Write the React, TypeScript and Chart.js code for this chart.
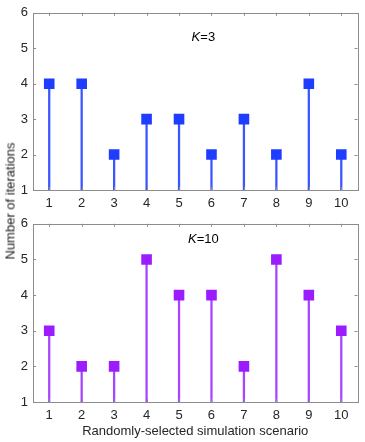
import React, { useEffect, useRef } from "react";
import { Chart, registerables } from "chart.js";
Chart.register(...registerables);

const scenarios = [1, 2, 3, 4, 5, 6, 7, 8, 9, 10];
const itersK3 = [4, 4, 2, 3, 3, 2, 3, 2, 4, 2];
const itersK10 = [3, 2, 2, 5, 4, 4, 2, 5, 4, 3];
const yTicks = [1, 2, 3, 4, 5, 6];
const xTitle = "Randomly-selected simulation scenario";
const yTitle = "Number of iterations";

const FONT = "'Liberation Sans', Arial, sans-serif";
const FS = 13;

const framePlugin = {
  id: "frame",
  afterDraw(chart: any, _a: any, opts: any) {
    const { ctx, chartArea: a, scales } = chart;
    ctx.save();
    ctx.strokeStyle = "#8c8c8c";
    ctx.lineWidth = 1;
    ctx.strokeRect(Math.round(a.left) + 0.5, Math.round(a.top) + 0.5, Math.round(a.right - a.left), Math.round(a.bottom - a.top));
    const tl = 3;
    ctx.beginPath();
    for (const v of scenarios) {
      const x = Math.round(scales.x.getPixelForValue(v)) + 0.5;
      ctx.moveTo(x, a.bottom);
      ctx.lineTo(x, a.bottom - tl);
      ctx.moveTo(x, a.top);
      ctx.lineTo(x, a.top + tl);
    }
    for (const v of yTicks) {
      const y = Math.round(scales.y.getPixelForValue(v)) + 0.5;
      ctx.moveTo(a.left, y);
      ctx.lineTo(a.left + tl, y);
      ctx.moveTo(a.right, y);
      ctx.lineTo(a.right - tl, y);
    }
    ctx.stroke();
    ctx.fillStyle = "#000";
    ctx.textBaseline = "middle";
    const cx = scales.x.getPixelForValue(opts.lx);
    const cy = scales.y.getPixelForValue(opts.ly);
    ctx.font = `italic ${FS}px ${FONT}`;
    const wk = ctx.measureText("K").width;
    ctx.font = `${FS}px ${FONT}`;
    const wr = ctx.measureText(opts.rest).width;
    const start = cx - (wk + wr) / 2;
    ctx.font = `italic ${FS}px ${FONT}`;
    ctx.textAlign = "left";
    ctx.fillText("K", start, cy);
    ctx.font = `${FS}px ${FONT}`;
    ctx.fillText(opts.rest, start + wk, cy);
    ctx.restore();
  },
};

function StemChart({ values, color, stemColor, label, showXTitle, height }: any) {
  const ref = useRef<HTMLCanvasElement>(null);
  useEffect(() => {
    const chart = new Chart(ref.current!, {
      type: "bar",
      data: {
        datasets: [
          {
            type: "scatter",
            data: scenarios.map((s, i) => ({ x: s, y: values[i] })),
            pointStyle: "rect",
            pointRadius: 7.5,
            backgroundColor: color,
            borderColor: color,
            borderWidth: 0,
            order: 0,
          } as any,
          {
            type: "bar",
            data: scenarios.map((s, i) => ({ x: s, y: [1, values[i]] })),
            backgroundColor: stemColor,
            barThickness: 1.6,
            order: 1,
          } as any,
        ],
      },
      options: {
        animation: false,
        responsive: false,
        maintainAspectRatio: false,
        layout: { padding: { top: 9, right: 5, left: 0, bottom: 0 } },
        plugins: {
          legend: { display: false },
          tooltip: { enabled: false },
          frame: { lx: 5.75, ly: label.ly, rest: label.rest },
        } as any,
        scales: {
          x: {
            type: "linear",
            min: 0.5,
            max: 10.5,
            offset: false,
            afterBuildTicks: (s: any) => {
              s.ticks = scenarios.map((v) => ({ value: v }));
            },
            grid: { display: false, drawTicks: false, offset: false },
            border: { display: false },
            ticks: { color: "#262626", font: { family: FONT, size: FS }, padding: 6, maxRotation: 0, autoSkip: false },
            title: showXTitle
              ? { display: true, text: xTitle, color: "#262626", font: { family: FONT, size: FS }, padding: { top: 0, bottom: 0 } }
              : { display: false },
            afterFit: (s: any) => {
              s.height = showXTitle ? 37 : 30;
            },
          },
          y: {
            type: "linear",
            min: 1,
            max: 6,
            afterBuildTicks: (s: any) => {
              s.ticks = yTicks.map((v) => ({ value: v }));
            },
            grid: { display: false, drawTicks: false },
            border: { display: false },
            ticks: { color: "#262626", font: { family: FONT, size: FS }, padding: 5 },
            afterFit: (s: any) => {
              s.width = 33;
            },
          },
        },
      },
      plugins: [framePlugin],
    } as any);
    return () => chart.destroy();
  }, []);
  return <canvas ref={ref} width={365} height={height} style={{ display: "block", width: 365, height }} />;
}

export default function App() {
  return (
    <div style={{ position: "absolute", left: 0, top: 0, width: 365, height: 442, background: "#fff" }}>
      <div style={{ position: "absolute", left: 0, top: 0 }}>
        <StemChart values={itersK3} color="#1f3dff" stemColor="#3a55ff" label={{ rest: "=3", ly: 5.3 }} showXTitle={false} height={220} />
      </div>
      <div style={{ position: "absolute", left: 0, top: 211 }}>
        <StemChart values={itersK10} color="#9a1cff" stemColor="#a744ff" label={{ rest: "=10", ly: 5.55 }} showXTitle={true} height={228} />
      </div>
      <div
        style={{
          position: "absolute",
          left: 10,
          top: 201,
          transform: "translate(-50%, -50%) rotate(-90deg)",
          whiteSpace: "nowrap",
          fontFamily: FONT,
          fontSize: FS,
          color: "#1a1a1a",
        }}
      >
        {yTitle}
      </div>
    </div>
  );
}
